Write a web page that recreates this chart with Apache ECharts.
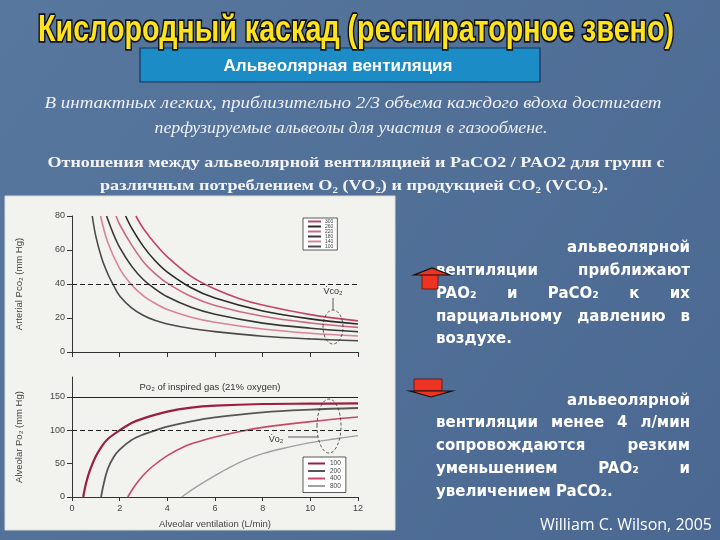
<!DOCTYPE html>
<html><head><meta charset="utf-8">
<script src="https://cdn.jsdelivr.net/npm/echarts@6/dist/echarts.min.js"></script>
<style>html,body{margin:0;padding:0;background:#4f6d96;}#c{width:720px;height:540px;}</style>
</head><body><div id="c"></div>
<script>
// ---------- DATA ----------
const xTickValues = [0, 2, 4, 6, 8, 10, 12];
const paco2Ticks = [0, 20, 40, 60, 80];
const pao2Ticks = [0, 50, 100, 150];

// Top panel: arterial PCO2 vs alveolar ventilation for VCO2 groups
const vco2Labels = ['300', '260', '220', '180', '140', '100'];
const paco2_300 = [[2.68,80],[3,72.5],[3.5,63.5],[4,56],[5,44.5],[6,37],[7,31.5],[8,27.6],[10,22],[12,18.3]];
const paco2_260 = [[2.25,80],[2.5,73],[3,62],[3.5,53.5],[4,47],[5,37.8],[6,31.7],[8,24.1],[10,19.5],[12,16.5]];
const paco2_220 = [[1.85,80],[2,75],[2.5,63],[3,53],[3.5,46],[4,40.5],[5,32.6],[6,27.4],[8,21],[10,17.1],[12,14.5]];
const paco2_180 = [[1.45,80],[1.75,69],[2,61.5],[2.5,50.5],[3,42.5],[3.5,37],[4,32.5],[5,26.3],[6,22.2],[8,17],[10,14],[12,11.9]];
const paco2_140 = [[1.2,80],[1.5,64.5],[2,49],[2.5,39.5],[3,33],[3.5,28.5],[4,25],[5,20.5],[6,17.5],[8,13.5],[10,11],[12,9.4]];
const paco2_100 = [[0.85,80],[1,68],[1.25,55],[1.5,46],[1.75,39],[2,33],[2.5,26],[3,21.5],[3.5,18.5],[4,16.5],[5,13.8],[6,12],[8,9.3],[10,7.7],[12,6.6]];
const paco2RefLine = 40;

// Bottom panel: alveolar PO2 vs alveolar ventilation for VO2 groups
const vo2Labels = ['100', '200', '400', '800'];
const pao2_100 = [[0.47,0],[0.6,22],[0.75,40],[1,61],[1.25,76],[1.5,87],[2,100],[2.5,111],[3,118],[4,128],[5,134],[6,137],[8,139.5],[10,140],[12,140.5]];
const pao2_200 = [[1.22,0],[1.32,18],[1.5,42],[1.75,60],[2,71],[2.5,85.5],[3,94],[3.5,100],[4,105.5],[5,113.5],[6,119.5],[8,127],[10,131],[12,133.5]];
const pao2_400 = [[2.34,0],[2.66,18],[3,33],[3.35,45],[4,62],[4.7,75.5],[5.5,85],[6,90],[7,98],[8,104.5],[10,113],[12,120]];
const pao2_800 = [[4.6,0],[5.3,17],[6,32],[6.6,44],[7.3,56],[8,65],[9,74],[10,81.5],[11,87],[12,92]];
const inspiredPO2 = 150;
const pao2RefLine = 100;

// ---------- TEXT ----------
const titleText = 'Кислородный каскад (респираторное звено)';
const subTitleText = 'Альвеолярная вентиляция';
const introLines = ['В интактных легких, приблизительно 2/3 объема каждого вдоха достигает',
                    'перфузируемые альвеолы для участия в газообмене.'];
const boldLines = ['Отношения между альвеолярной вентиляцией и PaCO2 / PAO2 для групп с',
                   'различным потреблением O₂ (VO₂) и продукцией CO₂ (VCO₂).'];
const block1 = [['альвеолярной'], ['вентиляции', 'приближают'], ['PAO₂', 'и', 'PaCO₂', 'к', 'их'],
                ['парциальному', 'давлению', 'в'], ['воздухе.']];
const block2 = [['альвеолярной'], ['вентиляции', 'менее', '4', 'л/мин'], ['сопровождаются', 'резким'],
                ['уменьшением', 'PAO₂', 'и'], ['увеличением', 'PaCO₂.']];
const sourceText = 'William C. Wilson, 2005';

// ---------- LAYOUT HELPERS ----------
const mctx = document.createElement('canvas').getContext('2d');
function tw(text, font) { mctx.font = font; return mctx.measureText(text).width; }

const graphics = [];
// chart panel
graphics.push({type:'rect', shape:{x:5, y:196, width:390, height:334}, style:{fill:'#f2f2ee', stroke:'#dcdcd6', lineWidth:1}, z:-10});

// title: black outline layer + yellow fill layer
const titleFont = 'bold 35px "Liberation Sans", Arial, sans-serif';
const tScale = 636 / tw(titleText, titleFont);
graphics.push({type:'text', x:356, y:31, scaleX:tScale, scaleY:1.05, z:1,
  style:{text:titleText, font:titleFont, textAlign:'center', textVerticalAlign:'middle',
    fill:'#111111', stroke:'#111111', lineWidth:3.4}});
graphics.push({type:'text', x:356, y:31, scaleX:tScale, scaleY:1.05, z:2,
  style:{text:titleText, font:titleFont, textAlign:'center', textVerticalAlign:'middle', fill:'#ffe31e'}});

// subtitle box
graphics.push({type:'rect', shape:{x:140, y:48, width:400, height:34}, style:{fill:'#1b8cc6', stroke:'#17325c', lineWidth:1.2}});
graphics.push({type:'text', x:338, y:66, style:{text:subTitleText, font:'bold 17px "Liberation Sans", Arial, sans-serif',
  fill:'#ffffff', textAlign:'center', textVerticalAlign:'middle', shadowColor:'rgba(0,0,0,0.6)', shadowOffsetX:1, shadowOffsetY:1}});

// italic intro
const introFont = 'italic 16px "Liberation Serif", serif';
const introTargets = [[353, 104, 617], [351, 129, 393]];
introLines.forEach((t, i) => {
  const [cx, cy, w] = introTargets[i];
  graphics.push({type:'text', x:cx, y:cy, scaleX:w / tw(t, introFont),
    style:{text:t, font:introFont, fill:'#eef0f4', textAlign:'center', textVerticalAlign:'middle'}});
});
// bold serif lines
const boldFont = 'bold 15.5px "Liberation Serif", serif';
const boldTargets = [[356, 163, 617], [354, 186, 508]];
boldLines.forEach((t, i) => {
  const [cx, cy, w] = boldTargets[i];
  graphics.push({type:'text', x:cx, y:cy, scaleX:w / tw(t, boldFont),
    style:{text:t, font:boldFont, fill:'#f4f4f4', textAlign:'center', textVerticalAlign:'middle',
      shadowColor:'rgba(0,0,0,0.5)', shadowOffsetX:1, shadowOffsetY:1}});
});

// right column text blocks
const rFont = 'bold 15px "DejaVu Sans", sans-serif';
const X0 = 436, X1 = 690;
function placeLine(words, y, mode) {
  const widths = words.map(w => tw(w, rFont));
  const total = widths.reduce((a, b) => a + b, 0);
  let x, gap;
  if (mode === 'right') { x = X1 - total; gap = 0; }
  else if (mode === 'left') { x = X0; gap = tw(' ', rFont); }
  else { x = X0; gap = words.length > 1 ? (X1 - X0 - total) / (words.length - 1) : 0; }
  words.forEach((w, i) => {
    graphics.push({type:'text', x:x, y:y, style:{text:w, font:rFont, fill:'#ffffff', textVerticalAlign:'middle',
      shadowColor:'rgba(0,0,0,0.45)', shadowOffsetX:1, shadowOffsetY:1}});
    x += widths[i] + gap;
  });
}
const block1Y = [248, 271, 294, 317, 339];
const block2Y = [401, 423, 446, 469, 492];
block1.forEach((ws, i) => placeLine(ws, block1Y[i], i === 0 ? 'right' : (i === block1.length - 1 ? 'left' : 'justify')));
block2.forEach((ws, i) => placeLine(ws, block2Y[i], i === 0 ? 'right' : (i === block2.length - 1 ? 'left' : 'justify')));

// arrows
graphics.push({type:'polygon', shape:{points:[[422,274],[438,274],[438,289],[422,289]]}, style:{fill:'#ee3322', stroke:'#5a1208', lineWidth:0.8}, z:5});
graphics.push({type:'polygon', shape:{points:[[414,275],[450,275],[432,268]]}, style:{fill:'#ee3322', stroke:'#111', lineWidth:1.2}, z:5});
graphics.push({type:'polygon', shape:{points:[[414,379],[442,379],[442,391],[414,391]]}, style:{fill:'#ee3322', stroke:'#5a1208', lineWidth:0.8}, z:5});
graphics.push({type:'polygon', shape:{points:[[410,391],[452,391],[431,397]]}, style:{fill:'#ee3322', stroke:'#111', lineWidth:1.2}, z:5});

// source
graphics.push({type:'text', x:712, y:525, style:{text:sourceText, font:'16px "Open Sans", "Liberation Sans", sans-serif',
  fill:'#ffffff', textAlign:'right', textVerticalAlign:'middle'}});

// chart annotations
graphics.push({type:'text', x:210, y:387, style:{text:'Po₂ of inspired gas (21% oxygen)', font:'9.5px "Liberation Sans", Arial, sans-serif', fill:'#333', textAlign:'center', textVerticalAlign:'middle'}});
graphics.push({type:'ellipse', shape:{cx:333, cy:327, rx:10, ry:17}, style:{fill:'none', stroke:'#333', lineWidth:0.8, lineDash:[3,2]}, z:20});
graphics.push({type:'line', shape:{x1:333, y1:298, x2:333, y2:310}, style:{stroke:'#333', lineWidth:0.8}, z:20});
graphics.push({type:'text', x:333, y:292, style:{text:'V̇co₂', font:'9px "Liberation Sans", Arial, sans-serif', fill:'#333', textAlign:'center', textVerticalAlign:'middle'}, z:20});
graphics.push({type:'ellipse', shape:{cx:329, cy:426, rx:12, ry:27}, style:{fill:'none', stroke:'#333', lineWidth:0.8, lineDash:[3,2]}, z:20});
graphics.push({type:'line', shape:{x1:288, y1:437, x2:318, y2:437}, style:{stroke:'#333', lineWidth:0.8}, z:20});
graphics.push({type:'text', x:276, y:440, style:{text:'V̇o₂', font:'9px "Liberation Sans", Arial, sans-serif', fill:'#333', textAlign:'center', textVerticalAlign:'middle'}, z:20});

// ---------- CHART ----------
const axisFont = {fontFamily:'"Liberation Sans", Arial, sans-serif', fontSize:9, color:'#444'};
const topSeriesData = [paco2_300, paco2_260, paco2_220, paco2_180, paco2_140, paco2_100];
const topColors = ['#c0446a', '#2b2b2b', '#cd6884', '#383838', '#d8849a', '#4a4a4a'];
const botSeriesData = [pao2_100, pao2_200, pao2_400, pao2_800];
const botColors = ['#9c1e40', '#555555', '#c8486a', '#a0a0a0'];
const botWidths = [2.2, 1.8, 1.6, 1.4];

const series = [];
topSeriesData.forEach((d, i) => {
  const s = {name:vco2Labels[i], type:'line', xAxisIndex:0, yAxisIndex:0, data:d, smooth:0.35, symbol:'none',
    lineStyle:{color:topColors[i], width:1.6}, itemStyle:{color:topColors[i]}};
  if (i === 0) s.markLine = {silent:true, symbol:'none', label:{show:false},
    lineStyle:{color:'#222', type:[5,3], width:1}, data:[{yAxis:paco2RefLine}]};
  series.push(s);
});
botSeriesData.forEach((d, i) => {
  const s = {name:'o' + vo2Labels[i], type:'line', xAxisIndex:1, yAxisIndex:1, data:d, smooth:0.35, symbol:'none',
    lineStyle:{color:botColors[i], width:botWidths[i]}, itemStyle:{color:botColors[i]}};
  if (i === 0) s.markLine = {silent:true, symbol:'none', label:{show:false},
    data:[{yAxis:inspiredPO2, lineStyle:{color:'#222', type:'solid', width:1.1}},
          {yAxis:pao2RefLine, lineStyle:{color:'#222', type:[5,3], width:1}}]};
  series.push(s);
});

const chart = echarts.init(document.getElementById('c'), null, {renderer:'canvas'});
chart.setOption({
  animation:false,
  backgroundColor:new echarts.graphic.LinearGradient(0,0,1,1,[{offset:0,color:'#58779e'},{offset:1,color:'#4a6891'}]),
  grid:[{left:72, width:286, top:216, height:136}, {left:72, width:286, top:377, height:120}],
  xAxis:[
    {type:'value', gridIndex:0, min:0, max:12, interval:2,
      axisLine:{show:true, lineStyle:{color:'#333'}}, axisTick:{show:true, length:5, lineStyle:{color:'#333'}},
      axisLabel:{show:false}, splitLine:{show:false}},
    {type:'value', gridIndex:1, min:0, max:12, interval:2,
      axisLine:{show:true, lineStyle:{color:'#333'}}, axisTick:{show:true, length:4, lineStyle:{color:'#333'}},
      axisLabel:Object.assign({margin:7, customValues:xTickValues}, axisFont), splitLine:{show:false},
      name:'Alveolar ventilation (L/min)', nameLocation:'middle', nameGap:22,
      nameTextStyle:Object.assign({}, axisFont, {fontSize:9.5})}
  ],
  yAxis:[
    {type:'value', gridIndex:0, min:0, max:80, interval:20,
      axisLine:{show:true, lineStyle:{color:'#333'}}, axisTick:{show:true, length:5, lineStyle:{color:'#333'}},
      axisLabel:Object.assign({margin:7, customValues:paco2Ticks}, axisFont), splitLine:{show:false},
      name:'Arterial Pco₂ (mm Hg)', nameLocation:'middle', nameGap:48, nameRotate:90,
      nameTextStyle:Object.assign({}, axisFont, {fontSize:9.5})},
    {type:'value', gridIndex:1, min:0, max:180, interval:50,
      axisLine:{show:true, lineStyle:{color:'#333'}},
      axisTick:{show:true, length:5, lineStyle:{color:'#333'}, customValues:pao2Ticks},
      axisLabel:Object.assign({margin:7, customValues:pao2Ticks}, axisFont), splitLine:{show:false},
      name:'Alveolar Po₂ (mm Hg)', nameLocation:'middle', nameGap:48, nameRotate:90,
      nameTextStyle:Object.assign({}, axisFont, {fontSize:9.5})}
  ],
  legend:[
    {data:vco2Labels, orient:'vertical', left:303, top:218, icon:'rect', itemWidth:13, itemHeight:2, itemGap:0,
      selectedMode:false, padding:[1,4,1,5], borderColor:'#333', borderWidth:0.8, backgroundColor:'#ffffff',
      textStyle:{fontSize:5, lineHeight:4.8, color:'#444', fontFamily:'"Liberation Sans", Arial, sans-serif', padding:[0,0,0,-1]}},
    {data:vo2Labels.map(v => 'o' + v), orient:'vertical', left:303, top:457, icon:'rect', itemWidth:17, itemHeight:2, itemGap:0.5,
      selectedMode:false, padding:[3,5,3,5], borderColor:'#333', borderWidth:0.8, backgroundColor:'#ffffff',
      formatter:n => n.slice(1),
      textStyle:{fontSize:6.5, lineHeight:6.6, color:'#444', fontFamily:'"Liberation Sans", Arial, sans-serif'}}
  ],
  series:series,
  graphic:graphics
});
</script>
</body></html>
